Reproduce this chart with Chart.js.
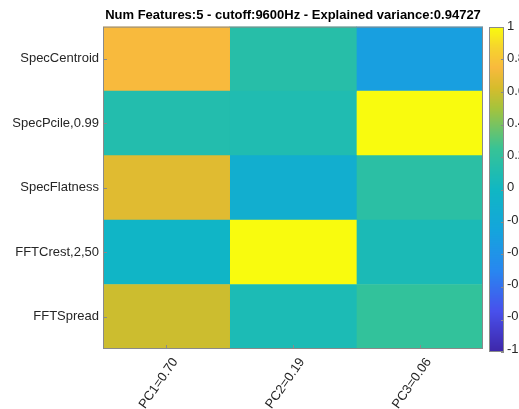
<!DOCTYPE html>
<html>
<head>
<meta charset="utf-8">
<script src="https://cdn.jsdelivr.net/npm/chart.js@4"></script>
<style>
  html, body { margin: 0; padding: 0; background: #fff; overflow: hidden; }
  #wrap { position: relative; width: 540px; height: 409px; }
</style>
</head>
<body>
<div id="wrap"><canvas id="heat" width="540" height="409"></canvas></div>
<script>
const features = ['SpecCentroid', 'SpecPcile,0.99', 'SpecFlatness', 'FFTCrest,2,50', 'FFTSpread'];
const components = ['PC1=0.70', 'PC2=0.19', 'PC3=0.06'];
// loadings per component, one entry per feature (top to bottom)
const pc1 = [0.75, 0.12, 0.66, -0.03, 0.60];
const pc2 = [0.15, 0.10, -0.12, 1.00, 0.08];
const pc3 = [-0.30, 1.00, 0.17, 0.07, 0.22];
const cbTicks = [-1, -0.8, -0.6, -0.4, -0.2, 0, 0.2, 0.4, 0.6, 0.8, 1];

const FONT = "'Liberation Sans', Arial, sans-serif";
const TEXT = '#262626';

// rough parula colormap
const parulaStops = [
  [0.0, 62, 38, 168],
  [0.125, 72, 80, 236],
  [0.25, 40, 135, 240],
  [0.375, 20, 165, 220],
  [0.5, 16, 183, 195],
  [0.625, 55, 195, 150],
  [0.75, 165, 195, 60],
  [0.8125, 214, 188, 44],
  [0.875, 248, 186, 61],
  [0.9375, 246, 212, 45],
  [1.0, 249, 251, 14]
];
function parula(v) {
  let t = (v + 1) / 2;
  t = Math.max(0, Math.min(1, t));
  for (let i = 1; i < parulaStops.length; i++) {
    const a = parulaStops[i - 1], b = parulaStops[i];
    if (t <= b[0]) {
      const f = (t - a[0]) / (b[0] - a[0]);
      const c = [1, 2, 3].map(k => Math.round(a[k] + (b[k] - a[k]) * f));
      return 'rgb(' + c.join(',') + ')';
    }
  }
  return 'rgb(249,251,14)';
}

const frame = {
  id: 'frame',
  afterDatasetsDraw(chart) {
    const { ctx, chartArea: a, scales } = chart;
    ctx.save();
    ctx.strokeStyle = '#8a8a8a';
    ctx.lineWidth = 1;
    ctx.strokeRect(a.left + 0.5, a.top + 0.5, a.width - 1, a.height - 1);
    ctx.beginPath();
    scales.x.ticks.forEach((t, i) => {
      const px = Math.round(scales.x.getPixelForTick(i)) + 0.5;
      ctx.moveTo(px, a.bottom); ctx.lineTo(px, a.bottom - 4);
    });
    scales.y.ticks.forEach((t, i) => {
      const py = Math.round(scales.y.getPixelForTick(i)) + 0.5;
      ctx.moveTo(a.left, py); ctx.lineTo(a.left + 4, py);
    });
    ctx.stroke();

    // colorbar
    const cb = scales.cb;
    const top = Math.round(cb.getPixelForValue(1));
    const bot = Math.round(cb.getPixelForValue(-1)) + 3;
    const x0 = Math.round(a.right) + 6, w = 15;
    for (let py = top; py < bot; py++) {
      const v = 1 - 2 * (py + 0.5 - top) / (bot - top);
      ctx.fillStyle = parula(v);
      ctx.fillRect(x0, py, w, 1);
    }
    ctx.strokeStyle = '#8a8a8a';
    ctx.strokeRect(x0 + 0.5, top + 0.5, w - 1, bot - top - 1);
    ctx.beginPath();
    cb.ticks.forEach((t, i) => {
      const py = Math.round(top + (1 - t.value) / 2 * (bot - top)) + 0.5;
      ctx.moveTo(x0 + w, py); ctx.lineTo(x0 + w - 3, py);
    });
    ctx.stroke();
    ctx.restore();
  }
};

new Chart(document.getElementById('heat'), {
  type: 'bar',
  data: {
    labels: features,
    datasets: [pc1, pc2, pc3].map((vals, i) => ({
      label: components[i],
      data: vals.map(() => 1),
      backgroundColor: vals.map(parula),
      borderWidth: 0,
      barPercentage: 1,
      categoryPercentage: 1
    }))
  },
  options: {
    indexAxis: 'y',
    responsive: false,
    animation: false,
    devicePixelRatio: 1,
    layout: { padding: { left: 0, right: 17, top: 0, bottom: 0 } },
    plugins: {
      legend: { display: false },
      tooltip: { enabled: false },
      title: {
        display: true,
        fullSize: false,
        text: 'Num Features:5 - cutoff:9600Hz - Explained variance:0.94727',
        color: '#000',
        font: { family: FONT, size: 13, weight: 'bold' },
        padding: { top: 8, bottom: 3 }
      }
    },
    scales: {
      x: {
        type: 'linear',
        min: 0,
        max: components.length,
        stacked: true,
        grid: { display: false, drawTicks: false },
        border: { display: false },
        afterBuildTicks: s => { s.ticks = components.map((c, i) => ({ value: i + 0.5 })); },
        afterFit: s => { s.height = 60; },
        ticks: {
          autoSkip: false,
          minRotation: 55,
          maxRotation: 55,
          padding: 6,
          labelOffset: 9,
          color: TEXT,
          font: { family: FONT, size: 13 },
          callback: (v, i) => components[i]
        }
      },
      y: {
        type: 'category',
        stacked: true,
        grid: { display: false, drawTicks: false },
        border: { display: false },
        afterFit: s => { s.width = 103; },
        ticks: { padding: 4, color: TEXT, font: { family: FONT, size: 13 } }
      },
      cb: {
        type: 'linear',
        position: 'right',
        offset: false,
        min: -1,
        max: 1,
        grid: { display: true, offset: false, drawOnChartArea: false, drawTicks: true, tickLength: 21, color: 'rgba(0,0,0,0)' },
        border: { display: false },
        afterBuildTicks: s => { s.ticks = cbTicks.map(v => ({ value: v })); },
        afterFit: s => { s.width = 40; },
        ticks: { padding: 3, color: TEXT, font: { family: FONT, size: 13 }, callback: v => String(v) }
      }
    }
  },
  plugins: [frame]
});
</script>
</body>
</html>
